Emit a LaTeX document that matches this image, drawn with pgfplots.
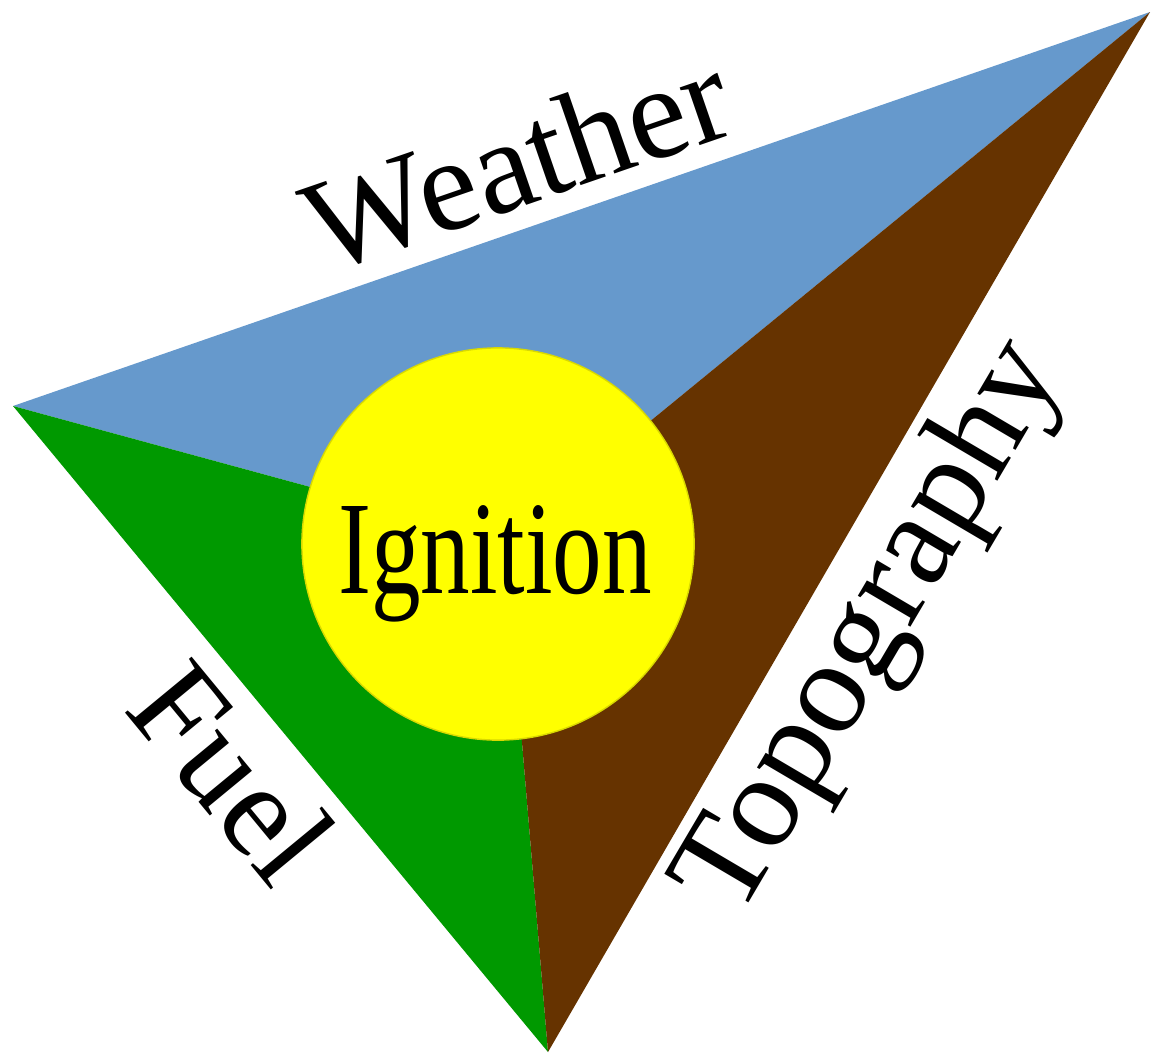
\documentclass[border=0pt]{standalone}
\usepackage{fontspec}
\setmainfont{Liberation Serif}
\usepackage{pgfplots}
\pgfplotsset{compat=1.18}
\definecolor{wblue}{RGB}{102,153,204}
\definecolor{fgreen}{RGB}{0,153,0}
\definecolor{tbrown}{RGB}{102,51,0}
\definecolor{iyellow}{RGB}{255,255,0}
\begin{document}
\begin{tikzpicture}
\begin{axis}[
  width=11.53cm, height=10.62cm, scale only axis,
  xmin=0, xmax=1153, ymin=0, ymax=1062, y dir=reverse,
  hide axis, clip=false, clip marker paths=true,
]
% frame that fixes the picture's extent
\addplot[draw=none, forget plot] coordinates {(0,0) (1153,1062)};
% Weather (blue)
\addplot[fill=wblue, draw=none] coordinates {(13,406) (1150,12) (505,540)} -- cycle;
% Fuel (green)
\addplot[fill=fgreen, draw=none] coordinates {(13,406) (505,540) (548,1052)} -- cycle;
% Topography (brown)
\addplot[fill=tbrown, draw=none] coordinates {(1150,12) (548,1052) (505,540)} -- cycle;
% Ignition circle
\addplot[only marks, mark=*, mark size=55.8pt,
  mark options={fill=iyellow, draw=iyellow!85!black, line width=0.4pt}]
  coordinates {(498,544)};
\node[rotate=19, anchor=base, inner sep=0pt, font=\fontsize{37.8}{40}\selectfont]
  at (axis cs:531.5,203.2) {Weather};
\node[rotate=-50.5, anchor=base, inner sep=0pt, font=\fontsize{37.8}{40}\selectfont]
  at (axis cs:198,801) {Fuel};
\node[rotate=59.5, anchor=base, inner sep=0pt, font=\fontsize{37.8}{40}\selectfont]
  at (axis cs:901,645) {Topography};
\node[anchor=base, inner sep=0pt, font=\fontsize{37.8}{40}\selectfont]
  at (axis cs:495,593) {\scalebox{0.746}[1]{Ignition}};
\end{axis}
\path (current axis.south west) rectangle (current axis.north east);
\end{tikzpicture}
\end{document}
